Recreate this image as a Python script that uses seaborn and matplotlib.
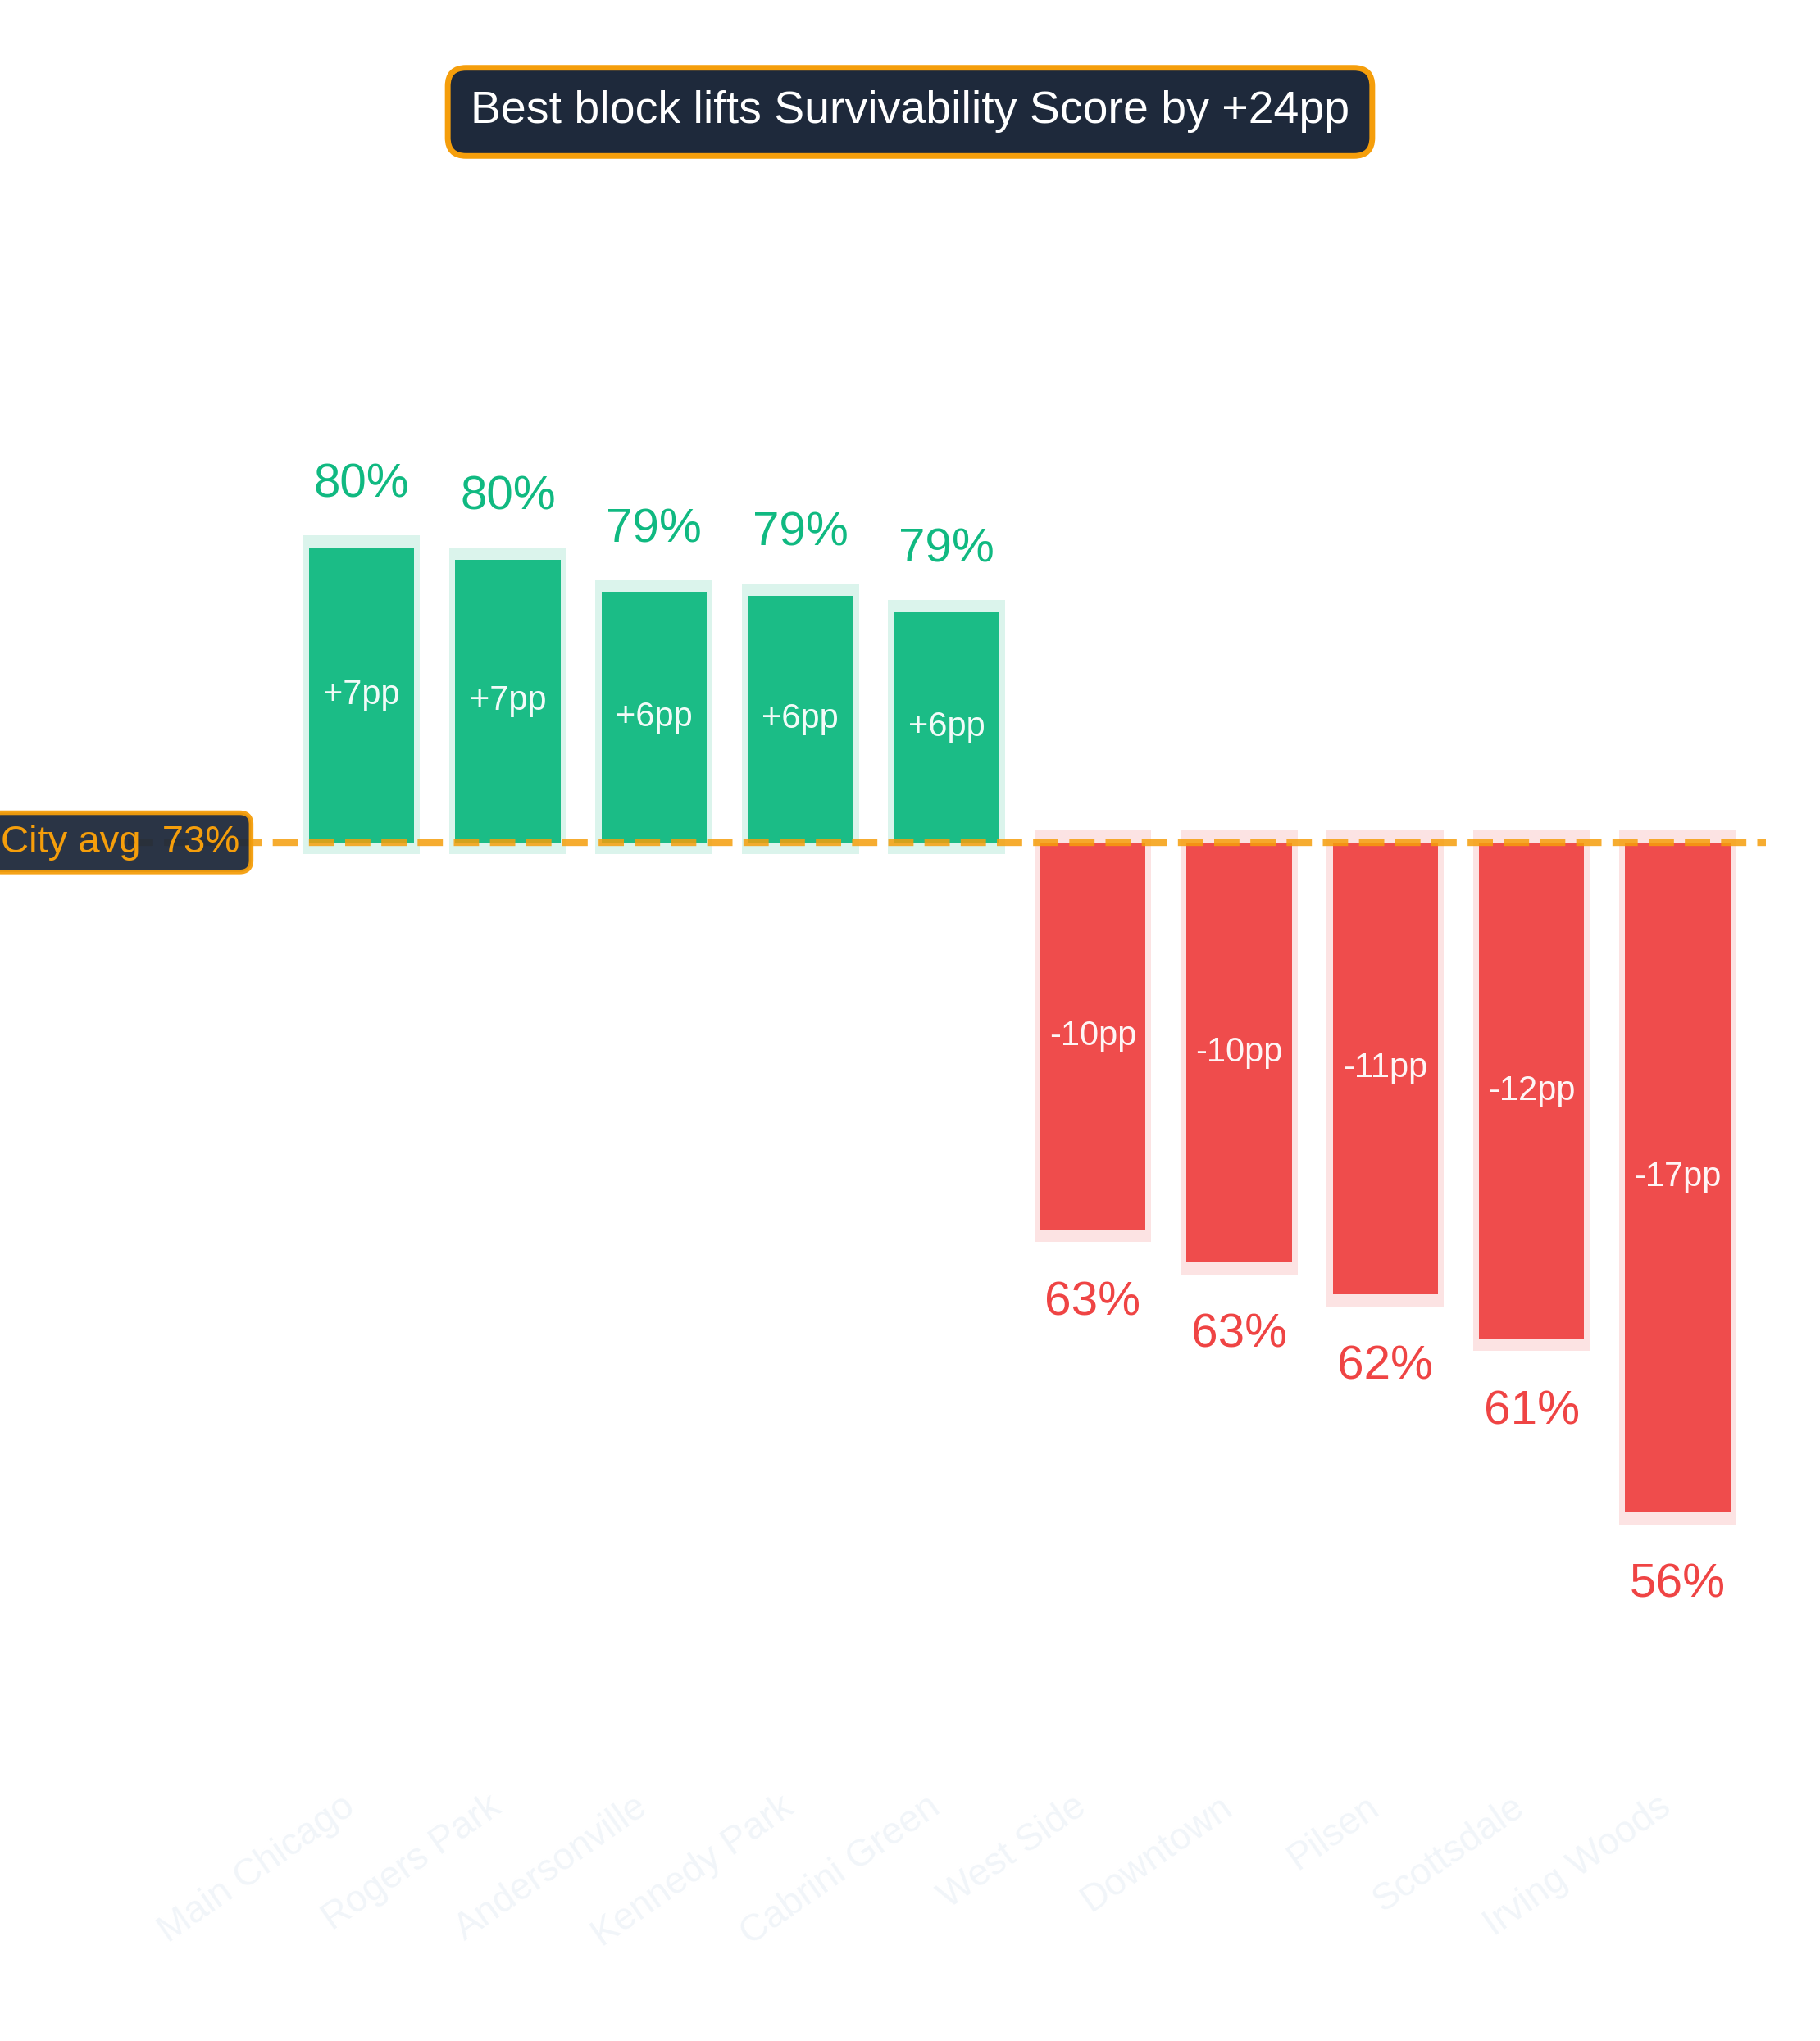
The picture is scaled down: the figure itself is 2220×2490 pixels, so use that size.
import matplotlib
matplotlib.use("Agg")
import matplotlib.pyplot as plt
import matplotlib.transforms as mtransforms
import numpy as np
import seaborn as sns

# ---- data ----
blocks = ["Main Chicago", "Rogers Park", "Andersonville", "Kennedy Park", "Cabrini Green",
          "West Side", "Downtown", "Pilsen", "Scottsdale", "Irving Woods"]
scores = [80.3, 80.0, 79.2, 79.1, 78.7, 63.4, 62.6, 61.8, 60.7, 56.4]
city_avg = 73.0
metric_name = "Survivability Score"

GREEN = "#10b981"
RED = "#ef4444"
AMBER = "#f59e0b"
NAVY = "#1e293b"

sns.set_theme(style="white")
plt.rcParams["font.family"] = ["Liberation Sans", "DejaVu Sans"]

deltas = np.array(scores) - city_avg
colors = [GREEN if d >= 0 else RED for d in deltas]

fig = plt.figure(figsize=(11.1, 12.45), dpi=200)
fig.patch.set_facecolor("white")
ax = fig.add_axes([155.6 / 2220, 1 - 2160 / 2490, 1998 / 2220, (2160 - 249) / 2490])
ax.set_facecolor("white")

# halo bars
pos = np.arange(len(blocks))
sign = np.sign(deltas)
ax.bar(pos, deltas + 0.6 * sign, bottom=-0.3 * sign, width=0.8,
       color=colors, alpha=0.15, linewidth=0, zorder=0.5)

# main bars
sns.barplot(x=blocks, y=list(deltas), hue=blocks, palette=colors, legend=False,
            width=0.72, saturation=1, alpha=0.95, linewidth=0, ax=ax, zorder=1)

# average line
ax.axhline(0, color=AMBER, alpha=0.85, lw=3, ls="--", zorder=3)

# labels
for i, (s, d, c) in enumerate(zip(scores, deltas, colors)):
    if d >= 0:
        ax.text(i, d + 1.0, f"{s:.0f}%", ha="center", va="bottom", fontsize=21, color=c, zorder=4)
    else:
        ax.text(i, d - 1.25, f"{s:.0f}%", ha="center", va="top", fontsize=21, color=c, zorder=4)
    ax.text(i, d / 2, f"{d:+.0f}pp", ha="center", va="center", fontsize=15,
            color="white", alpha=0.95, zorder=4)

# city avg label
trans = mtransforms.blended_transform_factory(ax.transAxes, ax.transData)
ax.text(-0.0774, 0, f"City avg  {city_avg:.0f}%", transform=trans, ha="left", va="center",
        fontsize=17, color=AMBER, zorder=5, clip_on=False,
        bbox=dict(boxstyle="round,pad=0.3", facecolor=NAVY, edgecolor=AMBER,
                  linewidth=2, alpha=0.95))

# title box
lift = max(scores) - min(scores)
fig.text(0.5, 1 - 136.5 / 2490, f"Best block lifts {metric_name} by +{lift:.0f}pp",
         ha="center", va="center", fontsize=20, color="white",
         bbox=dict(boxstyle="round,pad=0.5,rounding_size=0.4", facecolor=NAVY,
                   edgecolor=AMBER, linewidth=2.5))

ax.set_xlim(-1.6, 9.6)
ax.set_ylim(-22.99, 15.81)
ax.set_xlabel("")
ax.set_ylabel("")
ax.set_yticks([])
ax.tick_params(axis="x", length=0, pad=8, labelsize=16.5, labelcolor="#f1f5f9")
plt.setp(ax.get_xticklabels(), rotation=35, ha="right")
for sp in ax.spines.values():
    sp.set_visible(False)

fig.savefig("out.png", dpi=200, facecolor="white")
